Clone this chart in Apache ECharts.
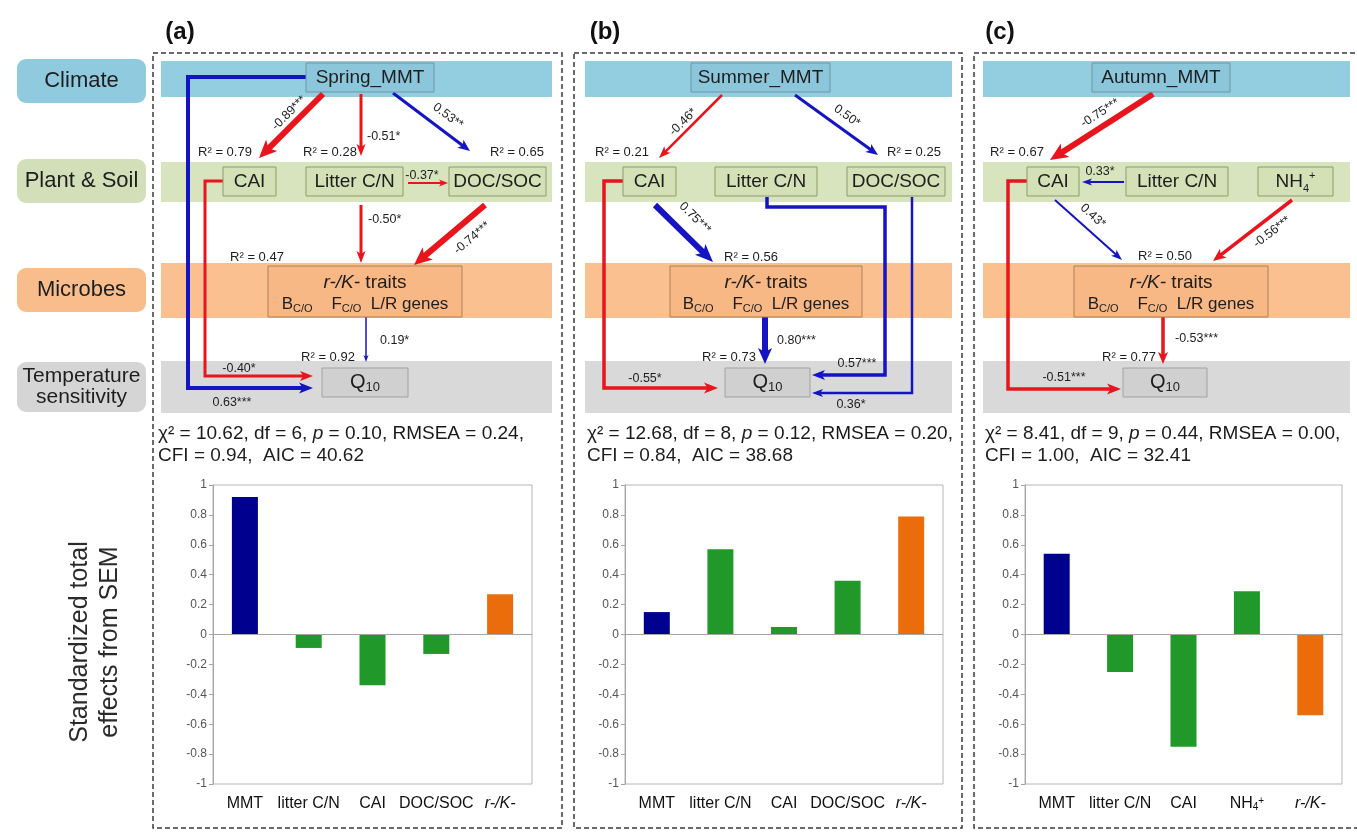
<!DOCTYPE html>
<html><head><meta charset="utf-8">
<script src="https://cdn.jsdelivr.net/npm/echarts@6/dist/echarts.min.js"></script>
<style>html,body{margin:0;padding:0;background:#fff}#c{width:1357px;height:834px}</style>
</head><body><div id="c"></div>
<script>
// ---------- data ----------
const categoriesA = ['MMT', 'litter C/N', 'CAI', 'DOC/SOC', 'r-/K-'];
const categoriesB = ['MMT', 'litter C/N', 'CAI', 'DOC/SOC', 'r-/K-'];
const categoriesC = ['MMT', 'litter C/N', 'CAI', 'NH4+', 'r-/K-'];
const effectsA = [0.92, -0.09, -0.34, -0.13, 0.27];
const effectsB = [0.15, 0.57, 0.05, 0.36, 0.79];
const effectsC = [0.54, -0.25, -0.75, 0.29, -0.54];
const factorGroup = ['climate', 'plant', 'plant', 'plant', 'microbe'];
const fitA = ['10.62', '6', '0.10', '0.24', '0.94', '40.62'];
const fitB = ['12.68', '8', '0.12', '0.20', '0.84', '38.68'];
const fitC = ['8.41', '9', '0.44', '0.00', '1.00', '32.41'];
const panelLabels = ['(a)', '(b)', '(c)'];
const yAxisTitle = ['Standardized total', 'effects from SEM'];

// ---------- styles ----------
const F = "'Liberation Sans', Arial, sans-serif";
const RED = '#e8151d', BLUE = '#1414c2';
const groupColor = {climate: '#00008e', plant: '#21992a', microbe: '#ea6c0a'};

const G = [];
function rect(x, y, w, h, fill, stroke, r, lw, z) {
  G.push({type: 'rect', silent: true, z: z || 1, shape: {x, y, width: w, height: h, r: r || 0},
    style: {fill: fill, stroke: stroke || null, lineWidth: lw || 1}});
}
function txt(x, y, s, o) {
  o = o || {};
  G.push({type: 'text', silent: true, z: 10, x: x, y: y, rotation: o.rot || 0,
    style: {text: s, x: 0, y: 0, fill: o.fill || '#1e1e1e', fontSize: o.size || 12, fontFamily: F,
      fontWeight: o.weight || 'normal', fontStyle: o.style || 'normal',
      align: o.align || 'center', textAlign: o.align || 'center',
      verticalAlign: 'middle', textVerticalAlign: 'middle', lineHeight: o.lh, rich: o.rich}});
}
function arrow(pts, color, lw, hl, hw) {
  const n = pts.length;
  const [x1, y1] = pts[n - 2], [x2, y2] = pts[n - 1];
  const dx = x2 - x1, dy = y2 - y1, L = Math.hypot(dx, dy), ux = dx / L, uy = dy / L;
  const bx = x2 - ux * hl, by = y2 - uy * hl;
  const line = pts.slice(0, n - 1).concat([[bx + ux * hl * 0.3, by + uy * hl * 0.3]]);
  G.push({type: 'polyline', silent: true, z: 3, shape: {points: line},
    style: {stroke: color, lineWidth: lw, fill: null, lineJoin: 'miter', lineCap: 'butt'}});
  G.push({type: 'polygon', silent: true, z: 3, shape: {points: [[x2, y2],
    [bx - uy * hw / 2, by + ux * hw / 2], [bx + ux * hl * 0.25, by + uy * hl * 0.25],
    [bx + uy * hw / 2, by - ux * hw / 2]]}, style: {fill: color}});
}
function rot(dx, dy) { return Math.atan2(-dy, dx); }

const nodeRich = {
  m: {fontSize: 19, fontFamily: F, lineHeight: 24, fill: '#1e1e1e', color: '#1e1e1e'},
  s: {fontSize: 11, fontFamily: F, fill: '#1e1e1e', color: '#1e1e1e', verticalAlign: 'bottom'},
  p: {fontSize: 11, fontFamily: F, fill: '#1e1e1e', color: '#1e1e1e', verticalAlign: 'top'},
  i: {fontSize: 19, fontFamily: F, lineHeight: 24, fontStyle: 'italic', fill: '#1e1e1e', color: '#1e1e1e'},
  q: {fontSize: 20, fontFamily: F, lineHeight: 24, fill: '#1e1e1e', color: '#1e1e1e'},
  qs: {fontSize: 13, fontFamily: F, fill: '#1e1e1e', color: '#1e1e1e', verticalAlign: 'bottom'},
  b: {fontSize: 17, fontFamily: F, lineHeight: 20, fill: '#1e1e1e', color: '#1e1e1e'},
  bs: {fontSize: 11, fontFamily: F, fill: '#1e1e1e', color: '#1e1e1e', verticalAlign: 'bottom'}
};
function climNode(x1, x2, label) {
  rect(x1, 63, x2 - x1, 29, '#8cc6da', '#6a97a6', 0, 1, 4);
  txt((x1 + x2) / 2, 78, label, {size: 19});
}
function plantNode(x1, x2, label, rich) {
  rect(x1, 167, x2 - x1, 29, '#d4e0b6', '#8d9b6c', 0, 1, 4);
  txt((x1 + x2) / 2, 182, label, {size: 19, rich: rich ? nodeRich : undefined});
}
function rkNode(x1, x2) {
  rect(x1, 266, x2 - x1, 51, '#f7b886', '#ad8058', 0, 1, 4);
  txt((x1 + x2) / 2, 283, '{i|r-/K-}{m| traits}', {size: 19, rich: nodeRich});
  txt((x1 + x2) / 2, 304, '{b|B}{bs|C/O}{b|    F}{bs|C/O}{b|  L/R genes}', {size: 17, rich: nodeRich});
}
function qNode(x1, x2) {
  rect(x1, 368, x2 - x1, 29, '#d0d0d0', '#a2a2a2', 0, 1, 4);
  txt((x1 + x2) / 2, 382, '{q|Q}{qs|10}', {size: 20, rich: nodeRich});
}
function bands(x1, x2) {
  rect(x1, 61, x2 - x1, 36, '#93cde0');
  rect(x1, 162, x2 - x1, 40, '#d8e4bd');
  rect(x1, 263, x2 - x1, 55, '#fac090');
  rect(x1, 361, x2 - x1, 52, '#d9d9d9');
}
function r2(x, y, v) { txt(x, y, 'R\u00b2 = ' + v, {size: 13}); }
function coef(x, y, s, o) { o = o || {}; txt(x, y, s, {size: 12.5, rot: o.rot, align: o.align}); }
const statRich = {
  n: {fontSize: 19, fontFamily: F, fill: '#1a1a1a', color: '#1a1a1a'},
  i: {fontSize: 19, fontFamily: F, fontStyle: 'italic', fill: '#1a1a1a', color: '#1a1a1a'}
};
function stats(x, f) {
  txt(x, 434, '{n|\u03c7\u00b2 = ' + f[0] + ', df = ' + f[1] + ', }{i|p}{n| = ' + f[2] + ', RMSEA = ' + f[3] + ',}',
    {size: 19, align: 'left', rich: statRich});
  txt(x, 456, 'CFI = ' + f[4] + ',  AIC = ' + f[5], {size: 19, align: 'left'});
}

// ---------- left row labels ----------
rect(17, 59, 129, 44, '#8fcadf', null, 9);
txt(81.5, 81, 'Climate', {size: 22});
rect(17, 159, 129, 44, '#d3dfb8', null, 9);
txt(81.5, 181, 'Plant & Soil', {size: 22});
rect(17, 268, 129, 44, '#f9bd8c', null, 9);
txt(81.5, 290, 'Microbes', {size: 22});
rect(17, 362, 129, 50, '#d5d5d5', null, 9);
txt(81.5, 376, 'Temperature', {size: 21});
txt(81.5, 397, 'sensitivity', {size: 21});
txt(95, 642, yAxisTitle.join('\n'), {size: 25, rot: Math.PI / 2, lh: 30, fill: '#2a2a2a'});

// ---------- panel frames ----------
[[153, 562], [574, 962], [974, 1359]].forEach(([a, b], k) => {
  G.push({type: 'rect', silent: true, z: 2, shape: {x: a, y: 53, width: b - a, height: 775},
    style: {fill: null, stroke: '#3a3a3a', lineWidth: 1.5, lineDash: [5, 3]}});
});
txt(180, 32, panelLabels[0], {size: 24, weight: 'bold', fill: '#111'});
txt(605, 32, panelLabels[1], {size: 24, weight: 'bold', fill: '#111'});
txt(1000, 32, panelLabels[2], {size: 24, weight: 'bold', fill: '#111'});

// ---------- panel (a) ----------
bands(161, 552);
climNode(306, 434, 'Spring_MMT');
plantNode(223, 276, 'CAI');
plantNode(306, 403, 'Litter C/N');
plantNode(449, 546, 'DOC/SOC');
rkNode(268, 462);
qNode(322, 408);
arrow([[306, 77], [188, 77], [188, 388], [313, 388]], BLUE, 4, 14, 11);
arrow([[323, 94], [259, 158]], RED, 6, 18, 16);
arrow([[361, 94], [361, 156]], RED, 3, 12, 9);
arrow([[393, 93], [470, 151]], BLUE, 3, 12, 10);
arrow([[408, 183], [448, 183]], RED, 2, 9, 7);
arrow([[361, 205], [361, 263]], RED, 3, 12, 9);
arrow([[485, 205], [414, 265]], RED, 6, 18, 16);
arrow([[223, 181], [205, 181], [205, 376], [313, 376]], RED, 3, 13, 10);
arrow([[366, 317], [366, 362]], BLUE, 1.5, 7, 5);
r2(225, 152, '0.79'); r2(330, 152, '0.28'); r2(517, 152, '0.65');
r2(257, 257, '0.47'); r2(328, 357, '0.92');
coef(289, 113, '-0.89***', {rot: rot(-64, 64) + Math.PI});
coef(367, 137, '-0.51*', {align: 'left'});
coef(448, 116, '0.53**', {rot: rot(77, 58)});
coef(422, 176, '-0.37*');
coef(368, 220, '-0.50*', {align: 'left'});
coef(472, 238, '-0.74***', {rot: rot(-71, 60) + Math.PI});
coef(239, 369, '-0.40*');
coef(232, 403, '0.63***');
coef(380, 341, '0.19*', {align: 'left'});
stats(158, fitA);

// ---------- panel (b) ----------
bands(585, 952);
climNode(691, 830, 'Summer_MMT');
plantNode(623, 676, 'CAI');
plantNode(715, 817, 'Litter C/N');
plantNode(847, 945, 'DOC/SOC');
rkNode(670, 862);
qNode(725, 810);
arrow([[722, 95], [659, 158]], RED, 2.5, 12, 9);
arrow([[795, 95], [878, 155]], BLUE, 3, 12, 10);
arrow([[655, 205], [713, 262]], BLUE, 6, 18, 15);
arrow([[623, 181], [604, 181], [604, 388], [718, 388]], RED, 3.5, 14, 11);
arrow([[767, 197], [767, 207], [885, 207], [885, 375], [812, 375]], BLUE, 3.5, 13, 10);
arrow([[912, 197], [912, 393], [812, 393]], BLUE, 2.5, 11, 8);
arrow([[765, 317], [765, 364]], BLUE, 6, 16, 14);
r2(622, 152, '0.21'); r2(914, 152, '0.25'); r2(751, 257, '0.56'); r2(729, 357, '0.73');
coef(683, 122, '-0.46*', {rot: rot(-63, 63) + Math.PI});
coef(847, 116, '0.50*', {rot: rot(83, 60)});
coef(695, 218, '0.75***', {rot: rot(58, 57)});
coef(645, 379, '-0.55*');
coef(857, 364, '0.57***');
coef(851, 405, '0.36*');
coef(777, 341, '0.80***', {align: 'left'});
stats(587, fitB);

// ---------- panel (c) ----------
bands(983, 1350);
climNode(1092, 1230, 'Autumn_MMT');
plantNode(1027, 1079, 'CAI');
plantNode(1126, 1228, 'Litter C/N');
plantNode(1258, 1333, '{m|NH}{s|4}{p|+}', true);
rkNode(1074, 1268);
qNode(1123, 1207);
arrow([[1153, 94], [1050, 160]], RED, 6, 18, 16);
arrow([[1124, 182], [1082, 182]], BLUE, 2, 10, 7);
arrow([[1055, 200], [1122, 260]], BLUE, 2, 11, 8);
arrow([[1292, 200], [1213, 261]], RED, 3.5, 13, 11);
arrow([[1163, 317], [1163, 364]], RED, 3.5, 12, 10);
arrow([[1027, 181], [1008, 181], [1008, 389], [1121, 389]], RED, 3.5, 14, 11);
r2(1017, 152, '0.67'); r2(1165, 256, '0.50'); r2(1129, 357, '0.77');
coef(1100, 113, '-0.75***', {rot: rot(-103, 66) + Math.PI});
coef(1100, 172, '0.33*');
coef(1093, 216, '0.43*', {rot: rot(67, 60)});
coef(1272, 232, '-0.56***', {rot: rot(-79, 61) + Math.PI});
coef(1175, 339, '-0.53***', {align: 'left'});
coef(1064, 378, '-0.51***');
stats(985, fitC);

// ---------- bar charts ----------
const grids = [{left: 213, width: 319}, {left: 625, width: 318}, {left: 1025, width: 317}];
const cats = [categoriesA, categoriesB, categoriesC];
const vals = [effectsA, effectsB, effectsC];
const labelRich = {
  n: {fontSize: 16, fontFamily: F, color: '#111'},
  i: {fontSize: 16, fontFamily: F, color: '#111', fontStyle: 'italic'},
  s: {fontSize: 10, fontFamily: F, color: '#111', verticalAlign: 'bottom'},
  p: {fontSize: 10, fontFamily: F, color: '#111', verticalAlign: 'top'}
};
function catLabel(v) {
  if (v === 'r-/K-') return '{i|r-/K-}';
  if (v === 'NH4+') return '{n|NH}{s|4}{p|+}';
  return '{n|' + v + '}';
}
const option = {
  animation: false,
  backgroundColor: '#fff',
  graphic: {elements: G},
  grid: grids.map(g => ({left: g.left, width: g.width, top: 485, height: 299, show: true,
    borderColor: '#b5b5b5', borderWidth: 1, backgroundColor: 'transparent', containLabel: false})),
  xAxis: cats.map((c, i) => ({type: 'category', gridIndex: i, data: c,
    axisLine: {show: false}, axisTick: {show: false}, splitLine: {show: false},
    axisLabel: {interval: 0, margin: 12, formatter: catLabel, rich: labelRich, fontSize: 16, fontFamily: F, color: '#111'}})),
  yAxis: cats.map((c, i) => ({type: 'value', gridIndex: i, min: -1, max: 1, interval: 0.2,
    axisLine: {show: true, lineStyle: {color: '#a5a5a5', width: 1}},
    axisTick: {show: true, length: 4, lineStyle: {color: '#a5a5a5'}},
    splitLine: {show: false},
    axisLabel: {fontSize: 12, fontFamily: F, color: '#555', margin: 6,
      formatter: v => { const r = Math.round(v * 10) / 10; return r === 0 ? '0' : String(r); }}})),
  series: vals.map((v, i) => ({type: 'bar', xAxisIndex: i, yAxisIndex: i, barWidth: 26,
    data: v.map((y, k) => ({value: y, itemStyle: {color: groupColor[factorGroup[k]]}})),
    markLine: {silent: true, symbol: 'none', label: {show: false}, animation: false,
      lineStyle: {color: '#a5a5a5', width: 1, type: 'solid'}, data: [{yAxis: 0}]}}))
};
const chart = echarts.init(document.getElementById('c'), null, {renderer: 'canvas'});
chart.setOption(option);
</script>
</body></html>
